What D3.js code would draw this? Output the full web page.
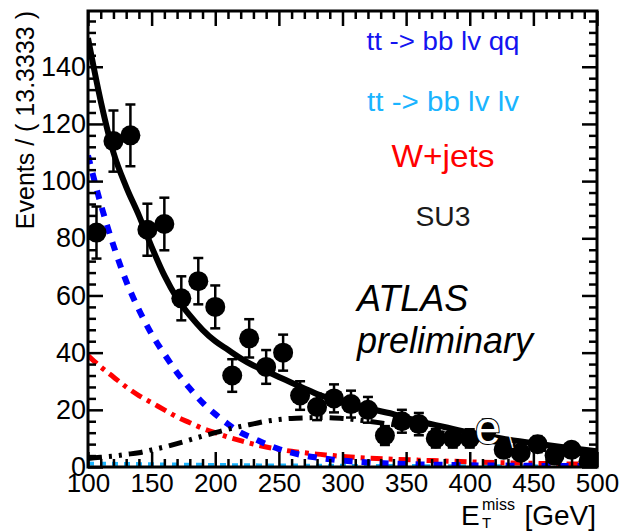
<!DOCTYPE html>
<html><head><meta charset="utf-8">
<script src="https://cdn.jsdelivr.net/npm/d3@7"></script>
<style>
body{margin:0;background:#fff}
svg{display:block}
text{font-family:"Liberation Sans",Arial,Helvetica,sans-serif}
</style>
</head><body>
<svg id="c" width="621" height="532"></svg>
<script>
// ---- data ----
const binCenters = [106.67,120,133.33,146.67,160,173.33,186.67,200,213.33,226.67,240,253.33,266.67,280,293.33,306.67,320,333.33,346.67,360,373.33,386.67,400,413.33,426.67,440,453.33,466.67,480,493.33];
const counts = [82,114,116,83,85,59,65,56,32,45,35,40,25,21,24,22,20,11,16,15,10,10,10,13,6,5,8,4,6,2];
const errors = [9.1,10.7,10.8,9.1,9.2,7.7,8.1,7.5,5.7,6.7,5.9,6.3,5.0,4.6,4.9,4.7,4.5,3.3,4.0,3.9,3.2,3.2,3.2,3.6,2.4,2.2,2.8,2.0,2.4,1.4];

const curveX = [100,110,120,130,140,150,160,170,180,190,200,210,220,230,240,250,260,270,280,290,300,320,340,360,380,400,425,450,475,500];
const totalFit = [150,128,110,98,88,77,67,59,53,48,44,41,38,35.5,33.5,31.5,29.5,27.5,25.5,24,22.5,20.5,18.5,16,14,12,10,8.3,6.8,5.5];
const ttLvQq = [109,92,77.5,65,55,46.5,39.5,33,27.5,22.5,18.5,15,12,10,8,6.3,5,4,3.3,2.7,2.2,1.6,1.2,0.9,0.75,0.6,0.5,0.4,0.35,0.3];
const ttLvLv = [1.2,1.15,1.1,1.05,1.0,0.95,0.9,0.85,0.8,0.75,0.7,0.66,0.62,0.58,0.55,0.52,0.5,0.47,0.45,0.43,0.4,0.37,0.34,0.31,0.28,0.26,0.24,0.22,0.2,0.18];
const wJets = [39,35,31.5,28,25,22.5,20,17.5,15.5,13.5,12,10.5,9.2,8,7,6.2,5.5,5,4.5,4.1,3.7,3.1,2.7,2.4,2.1,1.8,1.5,1.3,1.1,0.9];
const su3 = [3,3.4,3.8,4.4,5,6,7,8.2,9.5,10.8,12,13.2,14.2,15.1,16,16.6,17,17.2,17.3,17.2,17,16,14.8,13.3,11.8,10.2,8.4,6.7,5.2,4];

const xMajor = [100,150,200,250,300,350,400,450,500];
const xMinor = [110,120,130,140,160,170,180,190,210,220,230,240,260,270,280,290,310,320,330,340,360,370,380,390,410,420,430,440,460,470,480,490];
const yMajor = [0,20,40,60,80,100,120,140];
const yMinor = [4,8,12,16,24,28,32,36,44,48,52,56,64,68,72,76,84,88,92,96,104,108,112,116,124,128,132,136,144,148,152,156];

const legend = [
  {label:"tt -> bb lv qq", color:"#1414f0", size:25, y:50, len:153},
  {label:"tt -> bb lv lv", color:"#1ab4ff", size:27, y:111, len:152},
  {label:"W+jets", color:"#ff0000", size:32, y:167, len:103},
  {label:"SU3", color:"#1a1a1a", size:27, y:226, len:55}
];

// ---- layout ----
const L = 88, R = 597, T = 11, B = 467;
const svg = d3.select("#c");
svg.append("rect").attr("width",621).attr("height",532).attr("fill","#fff");

const x = d3.scaleLinear().domain([100,500]).range([L,R]);
const y = d3.scaleLinear().domain([0,159.5]).range([B,T]);

svg.append("clipPath").attr("id","clp").append("rect")
  .attr("x",L).attr("y",T).attr("width",R-L).attr("height",B-T);

const plot = svg.append("g").attr("clip-path","url(#clp)");

const line = d3.line().x((d,i)=>x(curveX[i])).y(d=>y(d)).curve(d3.curveMonotoneX);

function drawCurve(vals, color, width, dash){
  plot.append("path").datum(vals).attr("d",line).attr("fill","none")
    .attr("stroke",color).attr("stroke-width",width)
    .attr("stroke-dasharray",dash||null);
}
drawCurve(ttLvLv, "#1ab4ff", 4, "6,6");
drawCurve(wJets, "#ff0000", 5, "12,6,4,6");
drawCurve(ttLvQq, "#0000ff", 6, "9,9");
drawCurve(su3, "#000", 5, "14,7,3,7,3,7");
drawCurve(totalFit, "#000", 6, null);

// data points
const pts = plot.append("g");
binCenters.forEach((c,i)=>{
  const cx = x(c), v = counts[i], e = errors[i];
  pts.append("line").attr("x1",cx).attr("x2",cx).attr("y1",y(v-e)).attr("y2",y(v+e))
    .attr("stroke","#000").attr("stroke-width",2.5);
  [v-e, v+e].forEach(w=>{
    pts.append("line").attr("x1",cx-5).attr("x2",cx+5).attr("y1",y(w)).attr("y2",y(w))
      .attr("stroke","#000").attr("stroke-width",2.5);
  });
  pts.append("circle").attr("cx",cx).attr("cy",y(v)).attr("r",10).attr("fill","#000");
});

// white glyph artifact
svg.append("text").attr("x",475).attr("y",444).attr("fill","#fff")
  .attr("stroke","#000").attr("stroke-width",2).attr("paint-order","stroke")
  .attr("font-size",46).text("e");
svg.append("text").attr("x",509).attr("y",448).attr("fill","#fff")
  .attr("font-size",16).text("\\");

// axes
function styleAxis(g){
  g.select(".domain").remove();
  g.selectAll(".tick line").attr("stroke","#000").attr("stroke-width",2.5);
  g.selectAll("text").attr("fill","#000").style("font-family",'"Liberation Sans",Arial,Helvetica,sans-serif');
}
// bottom
svg.append("g").attr("transform",`translate(0,${B})`)
  .call(d3.axisBottom(x).tickValues(xMajor).tickSize(-15).tickPadding(7).tickFormat(d3.format("d")))
  .call(styleAxis).call(g=>g.selectAll("text").attr("font-size",26));
svg.append("g").attr("transform",`translate(0,${B})`)
  .call(d3.axisBottom(x).tickValues(xMinor).tickSize(-8).tickFormat(""))
  .call(styleAxis);
// top
svg.append("g").attr("transform",`translate(0,${T})`)
  .call(d3.axisTop(x).tickValues(xMajor).tickSize(-15).tickFormat(""))
  .call(styleAxis);
svg.append("g").attr("transform",`translate(0,${T})`)
  .call(d3.axisTop(x).tickValues(xMinor).tickSize(-8).tickFormat(""))
  .call(styleAxis);
// left
svg.append("g").attr("transform",`translate(${L},0)`)
  .call(d3.axisLeft(y).tickValues(yMajor).tickSize(-15).tickPadding(2).tickFormat(d3.format("d")))
  .call(styleAxis).call(g=>g.selectAll("text").attr("font-size",27));
svg.append("g").attr("transform",`translate(${L},0)`)
  .call(d3.axisLeft(y).tickValues(yMinor).tickSize(-8).tickFormat(""))
  .call(styleAxis);
// right
svg.append("g").attr("transform",`translate(${R},0)`)
  .call(d3.axisRight(y).tickValues(yMajor).tickSize(-15).tickFormat(""))
  .call(styleAxis);
svg.append("g").attr("transform",`translate(${R},0)`)
  .call(d3.axisRight(y).tickValues(yMinor).tickSize(-8).tickFormat(""))
  .call(styleAxis);

// frame
svg.append("rect").attr("x",L).attr("y",T).attr("width",R-L).attr("height",B-T)
  .attr("fill","none").attr("stroke","#000").attr("stroke-width",3);

// axis titles
svg.append("text").attr("transform",`translate(34,${T}) rotate(-90)`)
  .attr("text-anchor","end").attr("font-size",25).attr("fill","#000")
  .text("Events / ( 13.3333 )");

svg.append("text").attr("x",461).attr("y",525).attr("font-size",28).attr("fill","#000").text("E");
svg.append("text").attr("x",482).attr("y",510).attr("font-size",16).attr("fill","#000").text("miss");
svg.append("text").attr("x",482).attr("y",528).attr("font-size",15).attr("fill","#000").text("T");
svg.append("text").attr("x",596).attr("y",525).attr("text-anchor","end").attr("font-size",28).attr("fill","#000").text("[GeV]");

// legend
legend.forEach(l=>{
  svg.append("text").attr("x",443).attr("y",l.y).attr("text-anchor","middle")
    .attr("font-size",l.size).attr("fill",l.color)
    .attr("textLength",l.len).attr("lengthAdjust","spacingAndGlyphs").text(l.label);
});

// ATLAS label
svg.append("text").attr("x",357).attr("y",311).attr("font-size",36)
  .attr("font-style","italic").attr("fill","#000").text("ATLAS");
svg.append("text").attr("x",357).attr("y",353).attr("font-size",36)
  .attr("font-style","italic").attr("fill","#000").text("preliminary");
</script>
</body></html>
